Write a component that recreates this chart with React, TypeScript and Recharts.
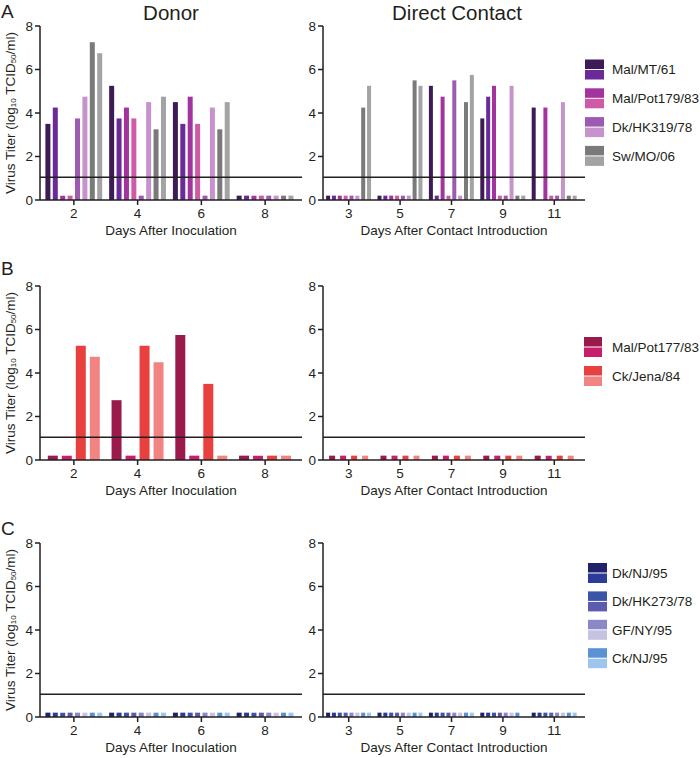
import { BarChart, Bar, XAxis, YAxis, ReferenceLine } from "recharts";

const FONT = "Arial, 'Liberation Sans', Helvetica, sans-serif";
const INK = "#231f20";

const donorDays = ["2", "4", "6", "8"];
const contactDays = ["3", "5", "7", "9", "11"];
const yTicks = [0, 2, 4, 6, 8];
const detectionLimit = 1.05;

// A: two animals per virus, one row per day
const virusesA = ["Mal/MT/61", "Mal/Pot179/83", "Dk/HK319/78", "Sw/MO/06"];
const colorsA = ["#3c1b57", "#6a2b98", "#a3339f", "#d05aa8", "#9c5bb0", "#c693cc", "#7a7a7a", "#a3a3a3"];
const donorA = [
  [3.5, 4.25, 0.2, 0.2, 3.75, 4.75, 7.25, 6.75],
  [5.25, 3.75, 4.25, 3.75, 0.2, 4.5, 3.25, 4.75],
  [4.5, 3.5, 4.75, 3.5, 0.2, 4.25, 3.25, 4.5],
  [0.2, 0.2, 0.2, 0.2, 0.2, 0.2, 0.2, 0.2],
];
const contactA = [
  [0.2, 0.2, 0.2, 0.2, 0.2, 0.2, 4.25, 5.25],
  [0.2, 0.2, 0.2, 0.2, 0.2, 0.2, 5.5, 5.25],
  [5.25, 0.2, 4.75, 0.2, 5.5, 0.2, 4.5, 5.75],
  [3.75, 4.75, 5.25, 0.2, 0.2, 5.25, 0.2, 0.2],
  [4.25, null, 4.25, 0.2, 0.2, 4.5, 0.2, 0.2],
];

// B
const virusesB = ["Mal/Pot177/83", "Ck/Jena/84"];
const colorsB = ["#9a1a4c", "#c81f6c", "#e8403f", "#f28383"];
const donorB = [
  [0.2, 0.2, 5.25, 4.75],
  [2.75, 0.2, 5.25, 4.5],
  [5.75, 0.2, 3.5, 0.2],
  [0.2, 0.2, 0.2, 0.2],
];
const contactB = [
  [0.2, 0.2, 0.2, 0.2],
  [0.2, 0.2, 0.2, 0.2],
  [0.2, 0.2, 0.2, 0.2],
  [0.2, 0.2, 0.2, 0.2],
  [0.2, 0.2, 0.2, 0.2],
];

// C
const virusesC = ["Dk/NJ/95", "Dk/HK273/78", "GF/NY/95", "Ck/NJ/95"];
const colorsC = ["#20226c", "#2c3a98", "#3a55a8", "#5c5bad", "#8a88c8", "#c6c2e2", "#5a92d4", "#9ec6ec"];
const donorC = [
  [0.2, 0.2, 0.2, 0.2, 0.2, 0.2, 0.2, 0.2],
  [0.2, 0.2, 0.2, 0.2, 0.2, 0.2, 0.2, 0.2],
  [0.2, 0.2, 0.2, 0.2, 0.2, 0.2, 0.2, 0.2],
  [0.2, 0.2, 0.2, 0.2, 0.2, 0.2, 0.2, 0.2],
];
const contactC = [
  [0.2, 0.2, 0.2, 0.2, 0.2, 0.2, 0.2, 0.2],
  [0.2, 0.2, 0.2, 0.2, 0.2, 0.2, 0.2, 0.2],
  [0.2, 0.2, 0.2, 0.2, 0.2, 0.2, 0.2, 0.2],
  [0.2, 0.2, 0.2, 0.2, 0.2, 0.2, 0.2, null],
  [0.2, 0.2, 0.2, 0.2, 0.2, 0.2, 0.2, 0.2],
];

function toRows(days: string[], values: (number | null)[][]) {
  return days.map((day, i) => {
    const row: Record<string, any> = { day };
    values[i].forEach((v, j) => (row["s" + j] = v));
    return row;
  });
}

function YTitle(props: any) {
  const vb = props.viewBox || { y: 10, height: 174 };
  const cx = 10;
  const cy = vb.y + vb.height / 2;
  return (
    <text
      x={cx}
      y={cy}
      transform={`rotate(-90 ${cx} ${cy})`}
      textAnchor="middle"
      dominantBaseline="central"
      fontSize={13.5}
      fill={INK}
      fontFamily={FONT}
    >
      Virus Titer (log<tspan dy={3} fontSize={8}>10</tspan>
      <tspan dy={-3}> TCID</tspan>
      <tspan dy={3} fontSize={8}>50</tspan>
      <tspan dy={-3}>/ml)</tspan>
    </text>
  );
}

type PanelProps = {
  left: number;
  top: number;
  side: "donor" | "contact";
  values: (number | null)[][];
  colors: string[];
  catGap: number;
  barGap: number;
};

function Panel({ left, top, side, values, colors, catGap, barGap }: PanelProps) {
  const donor = side === "donor";
  const days = donor ? donorDays : contactDays;
  const data = toRows(days, values);
  const width = donor ? 310 : 300;
  const yw = donor ? 40 : 33;
  return (
    <div style={{ position: "absolute", left, top: top - 10 }}>
      <BarChart
        width={width}
        height={226}
        data={data}
        margin={{ top: 10, right: donor ? 8 : 5, bottom: 0, left: 0 }}
        barCategoryGap={catGap}
        barGap={barGap}
      >
        <XAxis
          dataKey="day"
          height={42}
          padding={{ left: donor ? 2 : 0, right: 5 }}
          stroke={INK}
          strokeWidth={1.5}
          tickSize={5}
          tickMargin={3}
          tick={{ fontSize: 13.5, fill: INK, fontFamily: FONT }}
          label={{
            value: donor ? "Days After Inoculation" : "Days After Contact Introduction",
            position: "insideBottom",
            offset: 7,
            fill: INK,
            fontSize: 13.5,
            fontFamily: FONT,
          }}
        />
        <YAxis
          type="number"
          domain={[0, 8]}
          ticks={yTicks}
          width={yw}
          stroke={INK}
          strokeWidth={1.5}
          tickSize={5}
          tickMargin={2}
          tick={{ fontSize: 13.5, fill: INK, fontFamily: FONT }}
          label={donor ? (p: any) => <YTitle {...p} /> : undefined}
        />
        {colors.map((c, j) => (
          <Bar key={j} dataKey={"s" + j} fill={c} isAnimationActive={false} />
        ))}
        <ReferenceLine y={detectionLimit} stroke={INK} strokeWidth={1.5} />
      </BarChart>
    </div>
  );
}

function KeyBlock({ names, colors, x, y0, step, w }: { names: string[]; colors: string[]; x: number; y0: number; step: number; w: number }) {
  return (
    <g>
      {names.map((n, i) => {
        const cy = y0 + i * step;
        return (
          <g key={n}>
            <rect x={x} y={cy - 10} width={w} height={9.5} fill={colors[2 * i]} />
            <rect x={x} y={cy + 0.5} width={w} height={9.5} fill={colors[2 * i + 1]} />
            <text x={612} y={cy + 4.8} fontSize={13.5} fill={INK} fontFamily={FONT}>
              {n}
            </text>
          </g>
        );
      })}
    </g>
  );
}

export default function App() {
  return (
    <div style={{ position: "absolute", left: 0, top: 0, width: 700, height: 758, background: "#fff", fontFamily: FONT }}>
      <Panel left={0} top={26} side="donor" values={donorA} colors={colorsA} catGap={3.4} barGap={2.4} />
      <Panel left={290} top={26} side="contact" values={contactA} colors={colorsA} catGap={3.1} barGap={1.85} />
      <Panel left={0} top={286} side="donor" values={donorB} colors={colorsB} catGap={5.8} barGap={4} />
      <Panel left={290} top={286} side="contact" values={contactB} colors={colorsB} catGap={6.1} barGap={5} />
      <Panel left={0} top={543} side="donor" values={donorC} colors={colorsC} catGap={3.4} barGap={2.4} />
      <Panel left={290} top={543} side="contact" values={contactC} colors={colorsC} catGap={3.1} barGap={1.85} />
      <svg width={700} height={758} style={{ position: "absolute", left: 0, top: 0, pointerEvents: "none" }}>
        <g fontFamily={FONT} fill={INK}>
          <text x={1} y={18} fontSize={19}>A</text>
          <text x={1} y={275} fontSize={19}>B</text>
          <text x={1} y={535} fontSize={19}>C</text>
          <text x={171} y={20} fontSize={20.5} textAnchor="middle">Donor</text>
          <text x={457} y={20} fontSize={20.5} textAnchor="middle">Direct Contact</text>
        </g>
        <KeyBlock names={virusesA} colors={colorsA} x={585} y0={69.5} step={28.8} w={19} />
        <KeyBlock names={virusesB} colors={colorsB} x={584} y0={347} step={29} w={18} />
        <KeyBlock names={virusesC} colors={colorsC} x={588} y0={573} step={28.4} w={19} />
      </svg>
    </div>
  );
}
